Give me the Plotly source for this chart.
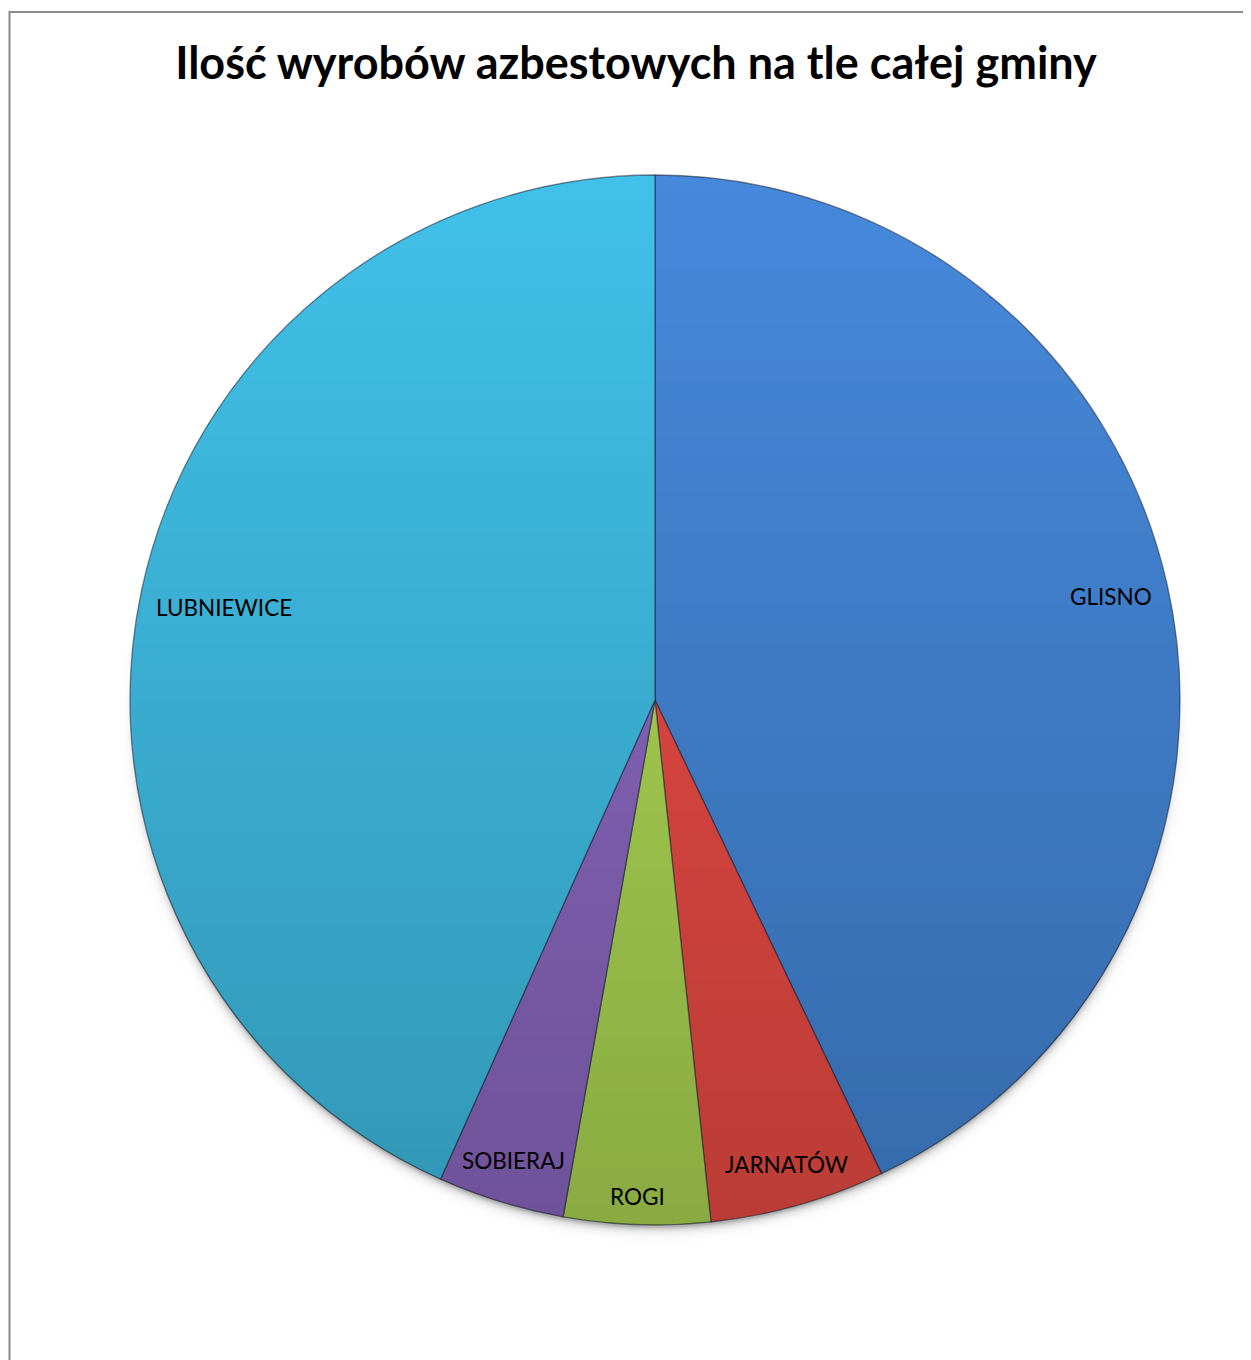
import math
import base64
import struct
import zlib
import numpy as np
import plotly.graph_objects as go

# Data (percent shares)
labels = ["GLISNO", "JARNATÓW", "ROGI", "SOBIERAJ", "LUBNIEWICE"]
values = [42.9, 5.4, 4.5, 3.9, 43.3]
colors = ["#4689DB", "#EF4D46", "#B0DB55", "#8E6AC4", "#41C1E9"]
title_text = "Ilość wyrobów azbestowych na tle całej gminy"

W, H = 1251, 1360
OFF = 8  # page body margin
# pie placement in figure pixels
cx, cy, R = 655 - OFF, 700 - OFF, 525


def png_data_uri(rgba):
    h, w, _ = rgba.shape
    raw = b"".join(b"\x00" + rgba[i].tobytes() for i in range(h))

    def chunk(tag, data):
        c = struct.pack(">I", len(data)) + tag + data
        return c + struct.pack(">I", zlib.crc32(tag + data) & 0xFFFFFFFF)

    png = (b"\x89PNG\r\n\x1a\n"
           + chunk(b"IHDR", struct.pack(">IIBBBBB", w, h, 8, 6, 0, 0, 0))
           + chunk(b"IDAT", zlib.compress(raw, 9))
           + chunk(b"IEND", b""))
    return "data:image/png;base64," + base64.b64encode(png).decode()


# shading overlay (vertical top-to-bottom darkening + soft shadow), styling only
pad = 24
N = 2 * R + 2 * pad
yy, xx = np.mgrid[0:N, 0:N].astype(float)
xx += 0.5 - (R + pad)
yy += 0.5 - (R + pad)
d = np.sqrt(xx ** 2 + yy ** 2)
cov = np.clip(R - 0.6 - d + 0.5, 0, 1)
t = np.clip((yy + R) / (2 * R), 0, 1)
a_in = 0.22 * t
d_sh = np.sqrt(xx ** 2 + (yy - 4) ** 2)
a_sh = np.where(d_sh > R - 2, 0.30 * np.exp(-np.clip(d_sh - R + 2, 0, None) / 4.0), 0.30)
a_sh = a_sh * np.clip((yy + R * 0.2) / (R * 0.8), 0, 1)
alpha = cov * a_in + (1 - cov) * a_sh
img = np.zeros((N, N, 4), dtype=np.uint8)
img[..., 3] = np.clip(alpha * 255, 0, 255).astype(np.uint8)
overlay = png_data_uri(img)

fig = go.Figure()
fig.add_trace(go.Pie(
    labels=labels,
    values=values,
    sort=False,
    direction="clockwise",
    rotation=0,
    textinfo="none",
    hoverinfo="label+value",
    marker=dict(colors=colors, line=dict(color="rgba(25,35,55,0.55)", width=1.3)),
    domain=dict(x=[(cx - R) / W, (cx + R) / W], y=[(H - cy - R) / H, (H - cy + R) / H]),
    showlegend=False,
))

# labels placed at "inside end" positions derived from the data
total = sum(values)
annotations = []
cum = 0.0
for lab, v in zip(labels, values):
    mid = (cum + v / 2) / total * 2 * math.pi
    cum += v
    s, c = math.sin(mid), math.cos(mid)
    hw = 13.5 * len(lab) / 2
    hh = 12
    r = R * 0.97 - (hw * abs(s) + hh * abs(c))
    px = cx + r * s
    py = cy - r * c
    annotations.append(dict(
        x=px / W, y=1 - py / H, xref="paper", yref="paper",
        text=lab, showarrow=False, xanchor="center", yanchor="middle",
        font=dict(family="Lato, Carlito, Calibri, sans-serif", size=22.5, color="#000000"),
    ))

fig.update_layout(
    width=W, height=H,
    margin=dict(l=0, r=0, t=0, b=0),
    paper_bgcolor="white",
    plot_bgcolor="white",
    title=dict(
        text="<b>" + title_text + "</b>",
        x=(636 - OFF) / W, xanchor="center", y=1 - (63 - OFF) / H, yanchor="middle",
        font=dict(family="Lato, Carlito, Calibri, sans-serif", size=45, color="#000000"),
    ),
    annotations=annotations,
    images=[dict(
        source=overlay, xref="paper", yref="paper",
        x=(cx - R - pad) / W, y=1 - (cy - R - pad) / H,
        sizex=N / W, sizey=N / H, xanchor="left", yanchor="top",
        sizing="stretch", layer="above",
    )],
    shapes=[dict(
        type="rect", xref="paper", yref="paper",
        x0=(9.5 - OFF) / W, x1=1.05, y0=-0.05, y1=1 - (12 - OFF) / H,
        line=dict(color="#8a8a8a", width=2), fillcolor="rgba(0,0,0,0)", layer="below",
    )],
)

fig.write_html("out.html")
